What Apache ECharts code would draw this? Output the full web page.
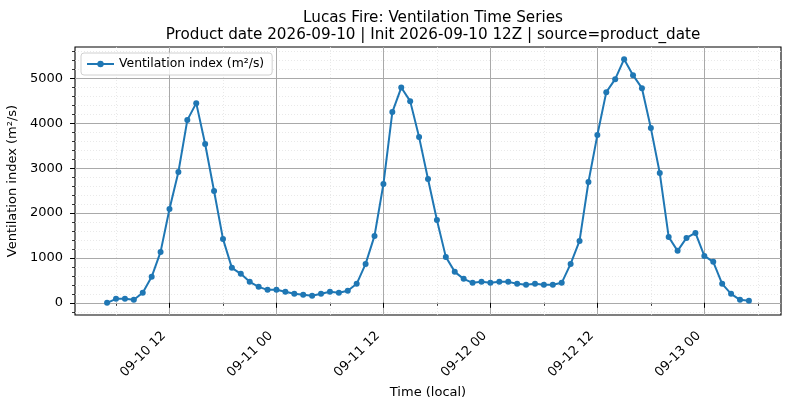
<!DOCTYPE html>
<html>
<head>
<meta charset="utf-8">
<script src="https://cdn.jsdelivr.net/npm/echarts@6/dist/echarts.min.js"></script>
<style>
 html,body{margin:0;padding:0;background:#fff;}
 #chart{width:790px;height:409px;}
</style>
</head>
<body>
<div id="chart"></div>
<script>
// hourly samples, local time, 09-10 05 .. 09-13 05 (hours since 09-10 00)
var START_HOUR = 5;
var ventIndex = [
  0, 89, 89, 67, 223, 579, 1135, 2093, 2916, 4074, 4452, 3540, 2493, 1425, 779, 646,
  467, 356, 289, 289, 245, 200, 178, 156, 200, 245, 223, 267, 423, 868, 1492, 2649,
  4252, 4800, 4497, 3695, 2760, 1848, 1024, 690, 534, 445, 467, 445, 467, 467, 423, 401,
  423, 401, 401, 445, 868, 1380, 2694, 3740, 4697, 4987, 5432, 5076, 4786, 3896, 2894, 1469,
  1158, 1447, 1558, 1046, 913, 423, 200, 67, 45
];
var xMajor = [12, 24, 36, 48, 60, 72];
var xMajorLabels = ['09-10 12', '09-11 00', '09-11 12', '09-12 00', '09-12 12', '09-13 00'];
var xMinor = [6, 18, 30, 42, 54, 66, 78];
var yMajor = [0, 1000, 2000, 3000, 4000, 5000];
var yMinor = [-200, 200, 400, 600, 800, 1200, 1400, 1600, 1800, 2200, 2400, 2600, 2800,
              3200, 3400, 3600, 3800, 4200, 4400, 4600, 4800, 5200, 5400, 5600];

var points = ventIndex.map(function(v, i){ return [START_HOUR + i, v]; });

var FONT = 'DejaVu Sans';
var X_MIN = 1.4, X_MAX = 80.6, Y_MIN = -272, Y_MAX = 5704;
var majorGrid = {show:true, lineStyle:{color:'#a9a9a9', width:1}};
var minorGrid = {show:true, lineStyle:{color:'#e3e3e3', width:0.8, type:[1, 2]}};

var chart = echarts.init(document.getElementById('chart'), null, {renderer:'canvas'});
chart.setOption({
  animation:false,
  backgroundColor:'#fff',
  textStyle:{fontFamily:FONT},
  title:{
    text:'Lucas Fire: Ventilation Time Series\nProduct date 2026-09-10 | Init 2026-09-10 12Z | source=product_date',
    left:428, top:5, textAlign:'center',
    textStyle:{fontFamily:FONT, fontSize:15.2, fontWeight:'normal', color:'#000', lineHeight:17}
  },
  legend:{
    left:81, top:53, padding:[5, 8, 5, 5],
    backgroundColor:'rgba(255,255,255,0.8)', borderColor:'#d0d0d0', borderWidth:1, borderRadius:3,
    itemWidth:27, itemHeight:8, itemGap:6,
    textStyle:{fontFamily:FONT, fontSize:12.4, color:'#000'}
  },
  grid:{left:75, right:9, top:47, bottom:94, show:true, borderColor:'#000', borderWidth:1.1,
        backgroundColor:'transparent', outerBoundsMode:'none', containLabel:false},
  xAxis:[{
    type:'value', min:X_MIN, max:X_MAX, z:1,
    name:'Time (local)', nameLocation:'middle', nameGap:71,
    nameTextStyle:{fontFamily:FONT, fontSize:13, color:'#000'},
    axisLine:{show:false},
    axisTick:{show:true, customValues:xMajor, length:5, lineStyle:{color:'#000', width:1}},
    axisLabel:{customValues:xMajor, rotate:45, margin:13, padding:[0, 8, 0, 0],
               fontFamily:FONT, fontSize:13, color:'#000',
               formatter:function(v){ var k = xMajor.indexOf(v); return k < 0 ? '' : xMajorLabels[k]; }},
    splitLine:majorGrid
  },{
    type:'value', min:X_MIN, max:X_MAX, position:'bottom', z:0,
    axisLine:{show:false},
    axisTick:{show:true, customValues:xMinor, length:3, lineStyle:{color:'#000', width:0.8}},
    axisLabel:{show:false, customValues:xMinor},
    splitLine:minorGrid
  }],
  yAxis:[{
    type:'value', min:Y_MIN, max:Y_MAX, z:1,
    name:'Ventilation index (m²/s)', nameLocation:'middle', nameGap:47,
    nameTextStyle:{fontFamily:FONT, fontSize:13, color:'#000'},
    axisLine:{show:false},
    axisTick:{show:true, customValues:yMajor, length:5, lineStyle:{color:'#000', width:1}},
    axisLabel:{customValues:yMajor, margin:12, fontFamily:FONT, fontSize:13, color:'#000',
               formatter:function(v){ return String(v); }},
    splitLine:majorGrid
  },{
    type:'value', min:Y_MIN, max:Y_MAX, position:'left', z:0,
    axisLine:{show:false},
    axisTick:{show:true, customValues:yMinor, length:3, lineStyle:{color:'#000', width:0.8}},
    axisLabel:{show:false, customValues:yMinor},
    splitLine:minorGrid
  }],
  series:[{
    name:'Ventilation index (m²/s)', type:'line', xAxisIndex:0, yAxisIndex:0,
    data:points, symbol:'circle', symbolSize:6, showAllSymbol:true, z:5,
    itemStyle:{color:'#1f77b4'}, lineStyle:{color:'#1f77b4', width:2}
  }]
});
</script>
</body>
</html>
